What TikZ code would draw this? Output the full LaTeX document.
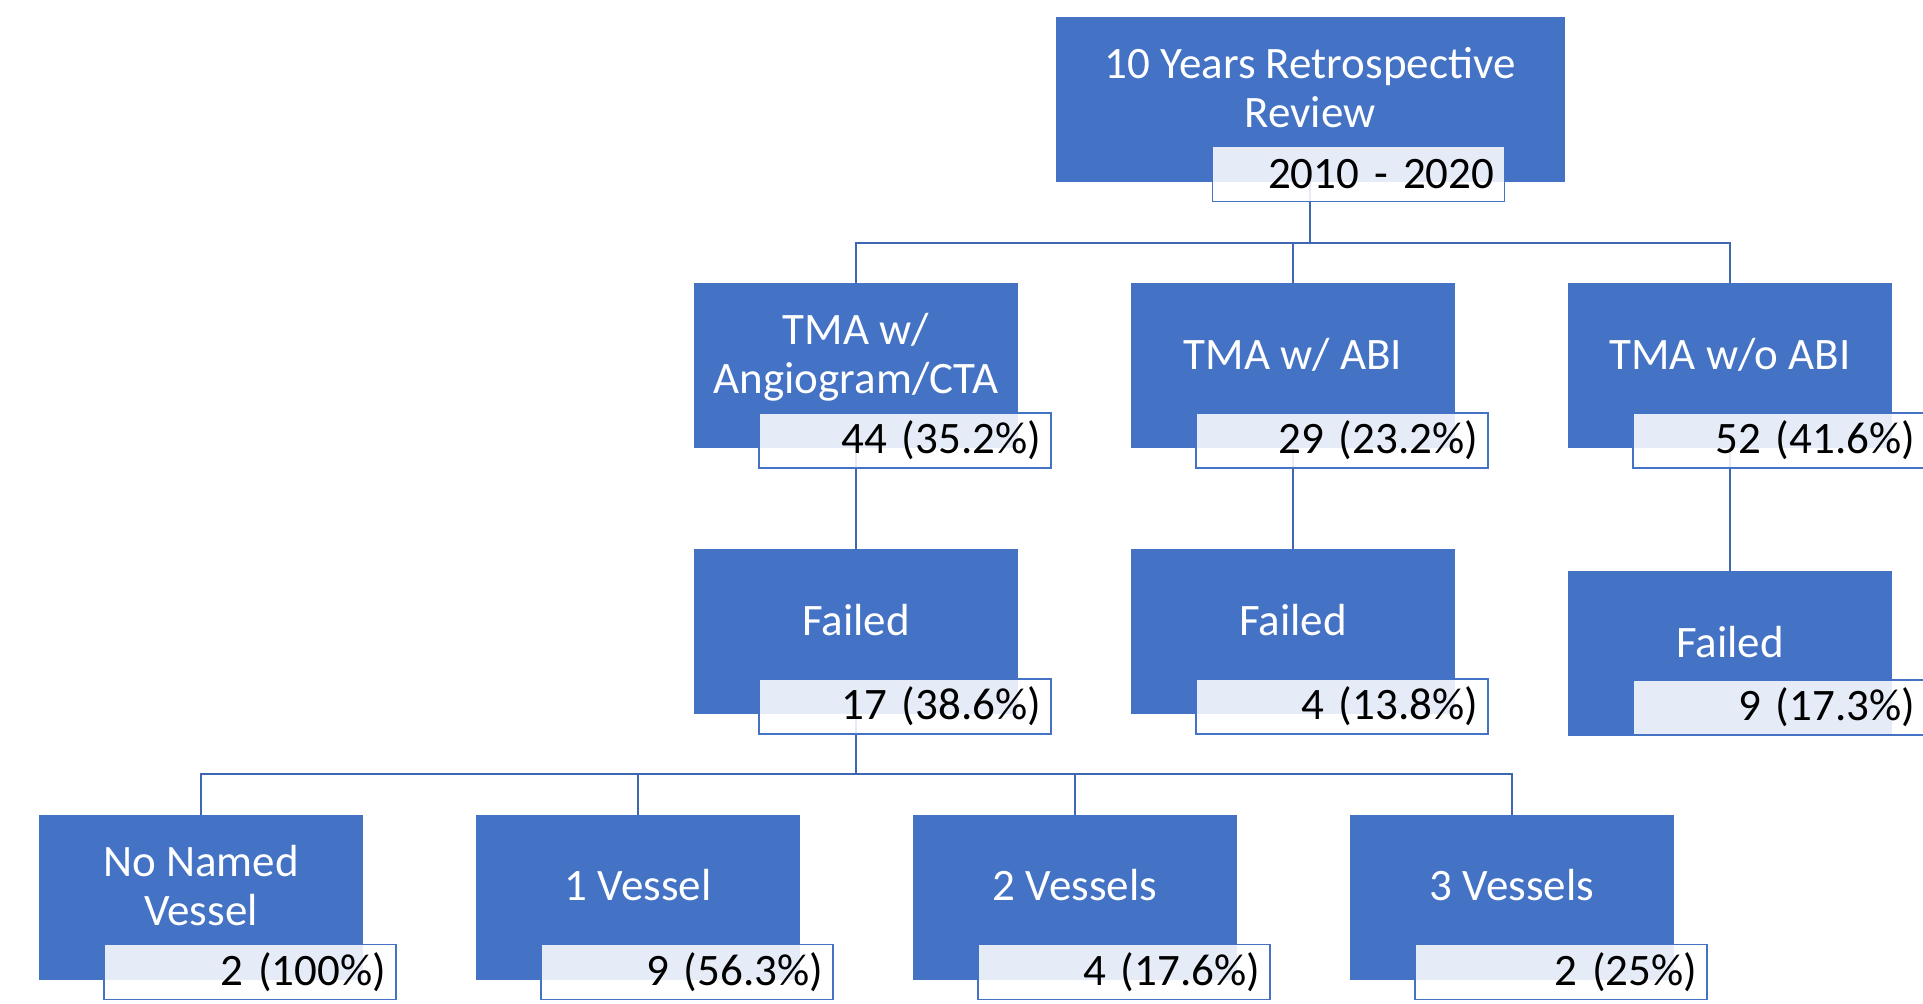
\documentclass[tikz,border=0pt]{standalone}
\usepackage{fontspec}
\setmainfont{Carlito}
\usepackage{tikz}
\usetikzlibrary{shapes,calc,backgrounds}
\definecolor{smartblue}{HTML}{4472C4}
\definecolor{linkblue}{HTML}{3F66B0}

\begin{document}
\begin{tikzpicture}[auto, x=0.5pt, y=-0.5pt,
    block_main/.style ={rectangle, draw=smartblue, fill=smartblue, text=white,
      minimum width=161.25pt, minimum height=82pt, align=center,
      text depth=12pt, font=\fontsize{22.5}{24.5}\selectfont},
    block_top/.style ={block_main, minimum width=254pt},
    block_count/.style ={rectangle, draw=smartblue, line width=0.8pt,
      fill=white, fill opacity=0.87, text opacity=1, text=black,
      text width=136pt, align=right, minimum height=27.5pt,
      inner xsep=5pt, inner ysep=0pt, anchor=south west,
      font=\fontsize{22.5}{24.5}\selectfont},
      line/.style ={draw, line width=1pt, linkblue}]
    \useasboundingbox (0,0) rectangle (1923,1004);
    % outlining the tree, one row at a time
    \node [block_top] (review) at (1310,99) {10 Years Retrospective\\Review};
    \node [block_count] (years) at ($(review.south west)+(156,21)$) {2010 - 2020};

    \node [block_main] (angio) at (856,365.5) {TMA w/\\Angiogram/CTA};
    \node [block_count] (nangio) at ($(angio.south west)+(64,21)$) {44 (35.2\%)};
    \node [block_main] (abi) at (1293,365.5) {TMA w/ ABI};
    \node [block_count] (nabi) at ($(abi.south west)+(64,21)$) {29 (23.2\%)};
    \node [block_main] (noabi) at (1730,365.5) {TMA w/o ABI};
    \node [block_count] (nnoabi) at ($(noabi.south west)+(64,21)$) {52 (41.6\%)};

    \node [block_main] (failangio) at (856,631.5) {Failed};
    \node [block_count] (nfailangio) at ($(failangio.south west)+(64,21)$) {17 (38.6\%)};
    \node [block_main] (failabi) at (1293,631.5) {Failed};
    \node [block_count] (nfailabi) at ($(failabi.south west)+(64,21)$) {4 (13.8\%)};
    \node [block_main] (failnoabi) at (1730,653.5) {Failed};
    \node [block_count] (nfailnoabi) at ($(failnoabi.south west)+(64,0)$) {9 (17.3\%)};

    \node [block_main] (vzero) at (201,897) {No Named\\Vessel};
    \node [block_count] (nvzero) at ($(vzero.south west)+(64,21)$) {2 (100\%)};
    \node [block_main] (vone) at (638,897) {1 Vessel};
    \node [block_count] (nvone) at ($(vone.south west)+(64,21)$) {9 (56.3\%)};
    \node [block_main] (vtwo) at (1075,897) {2 Vessels};
    \node [block_count] (nvtwo) at ($(vtwo.south west)+(64,21)$) {4 (17.6\%)};
    \node [block_main] (vthree) at (1512,897) {3 Vessels};
    \node [block_count] (nvthree) at ($(vthree.south west)+(64,21)$) {2 (25\%)};

    % connecting nodes with paths
    \begin{scope}[on background layer, every path/.style=line]
      \path (review.south) -- ++(0,62) -| (angio.north);
      \path (review.south) -- ++(0,62) -| (abi.north);
      \path (review.south) -- ++(0,62) -| (noabi.north);
      \path (angio.south) -- (failangio.north);
      \path (abi.south) -- (failabi.north);
      \path (noabi.south) -- (failnoabi.north);
      \path (failangio.south) -- ++(0,60) -| (vzero.north);
      \path (failangio.south) -- ++(0,60) -| (vone.north);
      \path (failangio.south) -- ++(0,60) -| (vtwo.north);
      \path (failangio.south) -- ++(0,60) -| (vthree.north);
    \end{scope}
  \end{tikzpicture}
\end{document}
